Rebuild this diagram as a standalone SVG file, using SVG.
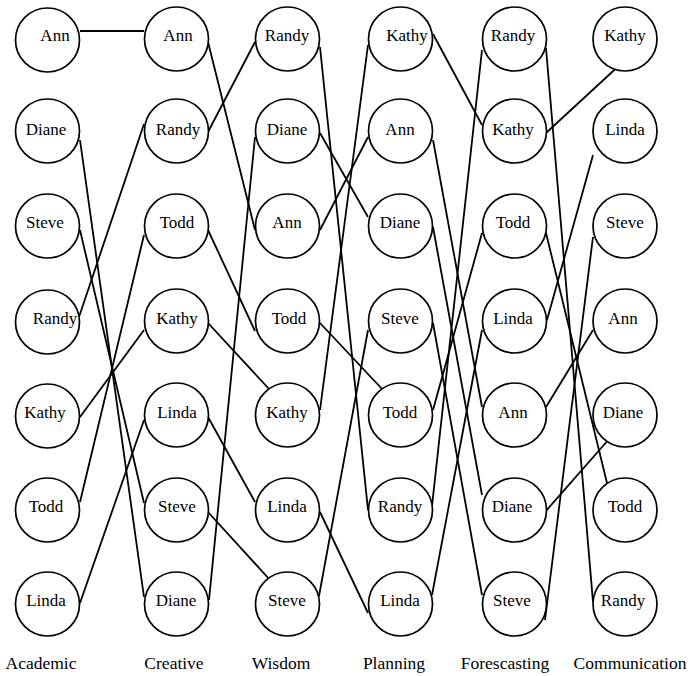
<svg xmlns="http://www.w3.org/2000/svg" width="688" height="676" viewBox="0 0 688 676">
<style>
.n circle{fill:#fff;stroke:#000;stroke-width:1.7}
text{font-size:17px;fill:#000;text-anchor:middle}
.lbl{font-size:17.5px}
#connectors line{stroke:#000;stroke-width:1.8;fill:none}
</style>
<rect width="688" height="676" fill="#fff"/>
<g id="connectors">
<line x1="80" y1="31" x2="144" y2="31"/>
<line x1="80" y1="140" x2="144" y2="597"/>
<line x1="80" y1="230" x2="144" y2="503"/>
<line x1="79" y1="317" x2="144" y2="124"/>
<line x1="80" y1="417" x2="144" y2="330"/>
<line x1="80" y1="502" x2="144" y2="235"/>
<line x1="80" y1="603" x2="144" y2="420"/>
<line x1="208" y1="42" x2="255" y2="230"/>
<line x1="208" y1="132" x2="255" y2="42"/>
<line x1="208" y1="230" x2="255" y2="331"/>
<line x1="208" y1="323" x2="270" y2="390"/>
<line x1="208" y1="417" x2="255" y2="502"/>
<line x1="208" y1="512" x2="270" y2="580"/>
<line x1="209" y1="600" x2="255" y2="137"/>
<line x1="320" y1="47" x2="368" y2="510"/>
<line x1="320" y1="133" x2="368" y2="217"/>
<line x1="320" y1="230" x2="368" y2="137"/>
<line x1="320" y1="323" x2="383" y2="390"/>
<line x1="320" y1="410" x2="368" y2="45"/>
<line x1="320" y1="512" x2="368" y2="613"/>
<line x1="319" y1="596" x2="368" y2="330"/>
<line x1="433" y1="34" x2="482" y2="125"/>
<line x1="433" y1="140" x2="482" y2="407"/>
<line x1="433" y1="227" x2="482" y2="495"/>
<line x1="433" y1="323" x2="482" y2="595"/>
<line x1="433" y1="410" x2="482" y2="233"/>
<line x1="432" y1="506" x2="482" y2="50"/>
<line x1="432" y1="595" x2="482" y2="330"/>
<line x1="546" y1="48" x2="593" y2="602"/>
<line x1="546" y1="133" x2="624" y2="61"/>
<line x1="546" y1="233" x2="607" y2="483"/>
<line x1="547" y1="320" x2="593" y2="155"/>
<line x1="546" y1="407" x2="593" y2="330"/>
<line x1="545" y1="512" x2="610" y2="438"/>
<line x1="545" y1="620" x2="593" y2="237"/>
</g>
<g id="a1" class="n"><circle cx="47.5" cy="40" r="32"/><text x="55" y="40.5" font-family="Liberation Serif">Ann</text></g>
<g id="a2" class="n"><circle cx="47.5" cy="131" r="32"/><text x="46" y="134.5" font-family="Liberation Serif">Diane</text></g>
<g id="a3" class="n"><circle cx="47.5" cy="226" r="32"/><text x="45" y="227.5" font-family="Liberation Serif">Steve</text></g>
<g id="a4" class="n"><circle cx="47.5" cy="322" r="32"/><text x="55" y="323.5" font-family="Liberation Serif">Randy</text></g>
<g id="a5" class="n"><circle cx="47.5" cy="416" r="32"/><text x="45" y="417.5" font-family="Liberation Serif">Kathy</text></g>
<g id="a6" class="n"><circle cx="47.5" cy="510" r="32"/><text x="46" y="511.5" font-family="Liberation Serif">Todd</text></g>
<g id="a7" class="n"><circle cx="47.5" cy="604" r="32"/><text x="46" y="605.5" font-family="Liberation Serif">Linda</text></g>
<g id="c1" class="n"><circle cx="176.5" cy="39" r="32"/><text x="178" y="40.5" font-family="Liberation Serif">Ann</text></g>
<g id="c2" class="n"><circle cx="176.5" cy="131" r="32"/><text x="178" y="134.5" font-family="Liberation Serif">Randy</text></g>
<g id="c3" class="n"><circle cx="176.5" cy="226" r="32"/><text x="177" y="227.5" font-family="Liberation Serif">Todd</text></g>
<g id="c4" class="n"><circle cx="176.5" cy="321" r="32"/><text x="177" y="323.5" font-family="Liberation Serif">Kathy</text></g>
<g id="c5" class="n"><circle cx="176.5" cy="415" r="32"/><text x="177" y="417.5" font-family="Liberation Serif">Linda</text></g>
<g id="c6" class="n"><circle cx="176.5" cy="510" r="32"/><text x="177" y="511.5" font-family="Liberation Serif">Steve</text></g>
<g id="c7" class="n"><circle cx="176.5" cy="604" r="32"/><text x="176" y="605.5" font-family="Liberation Serif">Diane</text></g>
<g id="w1" class="n"><circle cx="287.5" cy="39" r="32"/><text x="287" y="40.5" font-family="Liberation Serif">Randy</text></g>
<g id="w2" class="n"><circle cx="287.5" cy="131" r="32"/><text x="287" y="134.5" font-family="Liberation Serif">Diane</text></g>
<g id="w3" class="n"><circle cx="287.5" cy="226" r="32"/><text x="287" y="227.5" font-family="Liberation Serif">Ann</text></g>
<g id="w4" class="n"><circle cx="287.5" cy="321" r="32"/><text x="289" y="323.5" font-family="Liberation Serif">Todd</text></g>
<g id="w5" class="n"><circle cx="287.5" cy="415" r="32"/><text x="287" y="417.5" font-family="Liberation Serif">Kathy</text></g>
<g id="w6" class="n"><circle cx="287.5" cy="510" r="32"/><text x="287" y="511.5" font-family="Liberation Serif">Linda</text></g>
<g id="w7" class="n"><circle cx="287.5" cy="604" r="32"/><text x="287" y="605.5" font-family="Liberation Serif">Steve</text></g>
<g id="p1" class="n"><circle cx="400.5" cy="39" r="32"/><text x="407" y="40.5" font-family="Liberation Serif">Kathy</text></g>
<g id="p2" class="n"><circle cx="400.5" cy="131" r="32"/><text x="400" y="134.5" font-family="Liberation Serif">Ann</text></g>
<g id="p3" class="n"><circle cx="400.5" cy="226" r="32"/><text x="400" y="227.5" font-family="Liberation Serif">Diane</text></g>
<g id="p4" class="n"><circle cx="400.5" cy="321" r="32"/><text x="400" y="323.5" font-family="Liberation Serif">Steve</text></g>
<g id="p5" class="n"><circle cx="400.5" cy="415" r="32"/><text x="400" y="417.5" font-family="Liberation Serif">Todd</text></g>
<g id="p6" class="n"><circle cx="400.5" cy="510" r="32"/><text x="400" y="511.5" font-family="Liberation Serif">Randy</text></g>
<g id="p7" class="n"><circle cx="400.5" cy="604" r="32"/><text x="400" y="605.5" font-family="Liberation Serif">Linda</text></g>
<g id="f1" class="n"><circle cx="514.5" cy="39" r="32"/><text x="513" y="40.5" font-family="Liberation Serif">Randy</text></g>
<g id="f2" class="n"><circle cx="514.5" cy="131" r="32"/><text x="513" y="134.5" font-family="Liberation Serif">Kathy</text></g>
<g id="f3" class="n"><circle cx="514.5" cy="226" r="32"/><text x="513" y="227.5" font-family="Liberation Serif">Todd</text></g>
<g id="f4" class="n"><circle cx="514.5" cy="321" r="32"/><text x="513" y="323.5" font-family="Liberation Serif">Linda</text></g>
<g id="f5" class="n"><circle cx="514.5" cy="415" r="32"/><text x="513" y="417.5" font-family="Liberation Serif">Ann</text></g>
<g id="f6" class="n"><circle cx="514.5" cy="510" r="32"/><text x="512" y="511.5" font-family="Liberation Serif">Diane</text></g>
<g id="f7" class="n"><circle cx="514.5" cy="604" r="32"/><text x="512" y="605.5" font-family="Liberation Serif">Steve</text></g>
<g id="m1" class="n"><circle cx="625" cy="39" r="32"/><text x="625" y="40.5" font-family="Liberation Serif">Kathy</text></g>
<g id="m2" class="n"><circle cx="625" cy="131" r="32"/><text x="625" y="134.5" font-family="Liberation Serif">Linda</text></g>
<g id="m3" class="n"><circle cx="625" cy="226" r="32"/><text x="625" y="227.5" font-family="Liberation Serif">Steve</text></g>
<g id="m4" class="n"><circle cx="625" cy="321" r="32"/><text x="623" y="323.5" font-family="Liberation Serif">Ann</text></g>
<g id="m5" class="n"><circle cx="625" cy="415" r="32"/><text x="623" y="417.5" font-family="Liberation Serif">Diane</text></g>
<g id="m6" class="n"><circle cx="625" cy="510" r="32"/><text x="625" y="511.5" font-family="Liberation Serif">Todd</text></g>
<g id="m7" class="n"><circle cx="625" cy="604" r="32"/><text x="623" y="605.5" font-family="Liberation Serif">Randy</text></g>
<g id="labels">
<text class="lbl" x="41" y="669" font-family="Liberation Serif">Academic</text>
<text class="lbl" x="174" y="669" font-family="Liberation Serif">Creative</text>
<text class="lbl" x="281" y="669" font-family="Liberation Serif">Wisdom</text>
<text class="lbl" x="394" y="669" font-family="Liberation Serif">Planning</text>
<text class="lbl" x="505" y="669" font-family="Liberation Serif">Forescasting</text>
<text class="lbl" x="630" y="669" font-family="Liberation Serif">Communication</text>
</g>
</svg>
